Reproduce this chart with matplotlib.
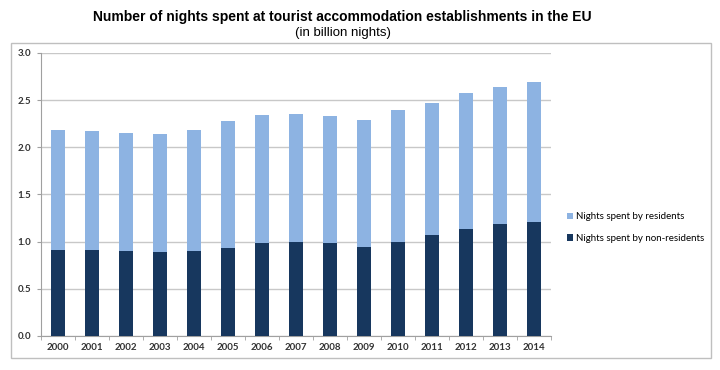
import matplotlib.pyplot as plt
from matplotlib import patches
import numpy as np

years = ['2000', '2001', '2002', '2003', '2004', '2005', '2006', '2007',
         '2008', '2009', '2010', '2011', '2012', '2013', '2014']
non_residents = [0.91, 0.91, 0.90, 0.89, 0.90, 0.93, 0.98, 1.00,
                 0.99, 0.94, 1.00, 1.07, 1.13, 1.19, 1.21]
totals = [2.18, 2.17, 2.15, 2.14, 2.18, 2.28, 2.34, 2.35,
          2.33, 2.29, 2.39, 2.47, 2.58, 2.64, 2.69]
residents = [t - n for t, n in zip(totals, non_residents)]

dark = '#17375e'
light = '#8db3e2'

fig = plt.figure(figsize=(7.2, 3.7), dpi=100)
ax = fig.add_axes([0.057, 0.092, 0.708, 0.765])

# outer chart frame
frame = patches.Rectangle((11 / 720, 12 / 370), 700 / 720, 315 / 370,
                          transform=fig.transFigure, fill=False,
                          edgecolor='#bfbfbf', linewidth=1.0, zorder=0)
fig.patches.append(frame)

x = np.arange(len(years))
ax.bar(x, non_residents, width=0.4, color=dark,
       label='Nights spent by non-residents', zorder=3)
ax.bar(x, residents, width=0.4, bottom=non_residents, color=light,
       label='Nights spent by residents', zorder=3)

ax.set_xlim(-0.5, len(years) - 0.5)
ax.set_ylim(0, 3.0)
ax.set_yticks(np.arange(0, 3.01, 0.5))
ax.set_yticklabels([f'{v:.1f}' for v in np.arange(0, 3.01, 0.5)],
                   fontsize=7, fontweight='bold', family='Lato', color='#333333')
ax.set_xticks(x)
ax.set_xticklabels(years, fontsize=7, fontweight='bold', family='Lato',
                   color='#333333')
ax.set_xticks(np.arange(-0.5, len(years), 1), minor=True)
ax.tick_params(axis='x', which='major', length=0, pad=5)
ax.tick_params(axis='x', which='minor', length=3, color='#a0a0a0')
ax.tick_params(axis='y', length=3, color='#a0a0a0', pad=4)

ax.grid(axis='y', color='#c8c8c8', linewidth=1.0, zorder=0)
for s in ['top', 'right']:
    ax.spines[s].set_visible(False)
ax.spines['left'].set_color('#a0a0a0')
ax.spines['bottom'].set_color('#a0a0a0')

handles, labels = ax.get_legend_handles_labels()
leg = fig.legend(handles[::-1], labels[::-1], loc='center left',
                 bbox_to_anchor=(0.775, 0.385), frameon=False,
                 prop={'family': 'Lato', 'size': 7}, handlelength=0.6,
                 handleheight=0.6, handletextpad=0.3, labelspacing=1.3)

fig.text(0.476, 0.955, 'Number of nights spent at tourist accommodation establishments in the EU',
         ha='center', va='center', fontsize=10, fontweight='bold',
         family='Liberation Sans')
fig.text(0.476, 0.912, '(in billion nights)', ha='center', va='center',
         fontsize=9.5, family='Liberation Sans')

fig.savefig('out.png', dpi=100)
